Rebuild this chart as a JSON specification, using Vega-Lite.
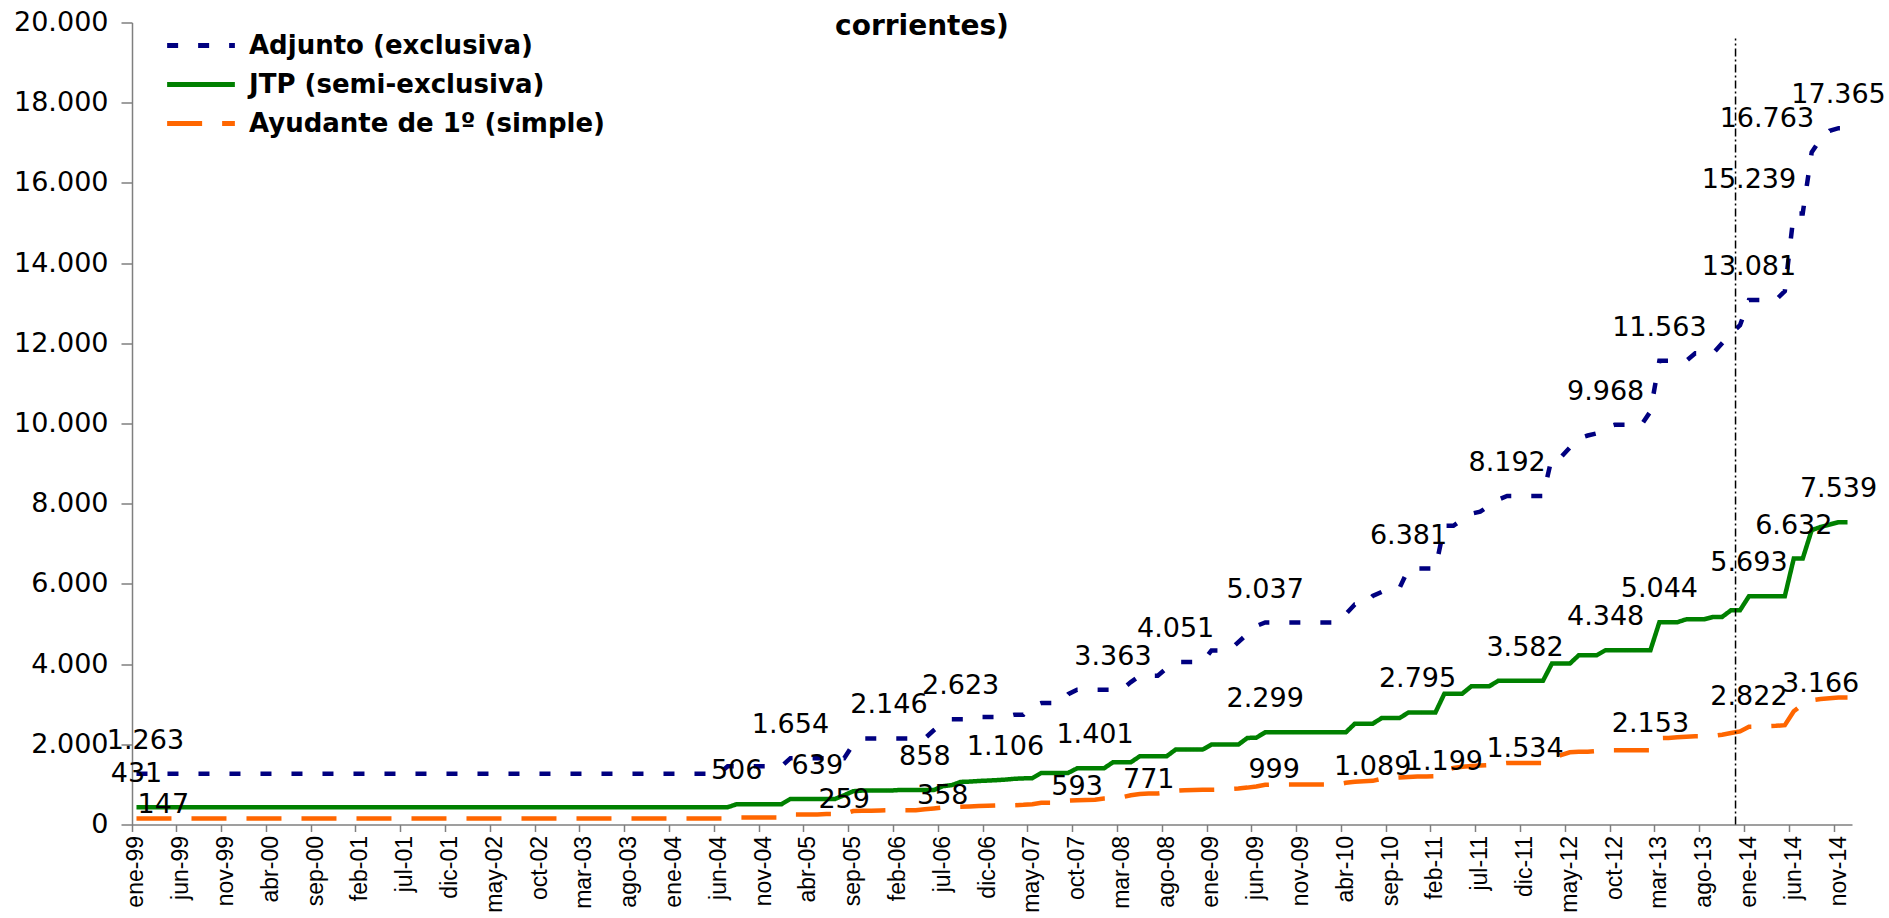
{
  "$schema": "https://vega.github.io/schema/vega-lite/v6.json",
  "width": 1720,
  "height": 802,
  "autosize": "none",
  "padding": {"left": 132, "top": 22.5, "right": 37, "bottom": 93.5},
  "background": "white",
  "config": {
    "view": {"stroke": null},
    "axis": {"grid": false},
    "locale": {"number": {"decimal": ",", "thousands": ".", "grouping": [3], "currency": ["$", ""]}}
  },
  "title": {
    "text": "corrientes)",
    "font": "DejaVu Sans",
    "fontSize": 28,
    "fontWeight": "bold",
    "color": "black",
    "anchor": "middle",
    "frame": "group",
    "dx": -70,
    "offset": -54,
    "baseline": "alphabetic"
  },
  "datasets": {
    "meses": [
      {"mes":"ene-99","Adjunto":1263,"JTP":431,"Ayudante":147},
      {"mes":"feb-99","Adjunto":1263,"JTP":431,"Ayudante":147},
      {"mes":"mar-99","Adjunto":1263,"JTP":431,"Ayudante":147},
      {"mes":"abr-99","Adjunto":1263,"JTP":431,"Ayudante":147},
      {"mes":"may-99","Adjunto":1263,"JTP":431,"Ayudante":147},
      {"mes":"jun-99","Adjunto":1263,"JTP":431,"Ayudante":147},
      {"mes":"jul-99","Adjunto":1263,"JTP":431,"Ayudante":147},
      {"mes":"ago-99","Adjunto":1263,"JTP":431,"Ayudante":147},
      {"mes":"sep-99","Adjunto":1263,"JTP":431,"Ayudante":147},
      {"mes":"oct-99","Adjunto":1263,"JTP":431,"Ayudante":147},
      {"mes":"nov-99","Adjunto":1263,"JTP":431,"Ayudante":147},
      {"mes":"dic-99","Adjunto":1263,"JTP":431,"Ayudante":147},
      {"mes":"ene-00","Adjunto":1263,"JTP":431,"Ayudante":147},
      {"mes":"feb-00","Adjunto":1263,"JTP":431,"Ayudante":147},
      {"mes":"mar-00","Adjunto":1263,"JTP":431,"Ayudante":147},
      {"mes":"abr-00","Adjunto":1263,"JTP":431,"Ayudante":147},
      {"mes":"may-00","Adjunto":1263,"JTP":431,"Ayudante":147},
      {"mes":"jun-00","Adjunto":1263,"JTP":431,"Ayudante":147},
      {"mes":"jul-00","Adjunto":1263,"JTP":431,"Ayudante":147},
      {"mes":"ago-00","Adjunto":1263,"JTP":431,"Ayudante":147},
      {"mes":"sep-00","Adjunto":1263,"JTP":431,"Ayudante":147},
      {"mes":"oct-00","Adjunto":1263,"JTP":431,"Ayudante":147},
      {"mes":"nov-00","Adjunto":1263,"JTP":431,"Ayudante":147},
      {"mes":"dic-00","Adjunto":1263,"JTP":431,"Ayudante":147},
      {"mes":"ene-01","Adjunto":1263,"JTP":431,"Ayudante":147},
      {"mes":"feb-01","Adjunto":1263,"JTP":431,"Ayudante":147},
      {"mes":"mar-01","Adjunto":1263,"JTP":431,"Ayudante":147},
      {"mes":"abr-01","Adjunto":1263,"JTP":431,"Ayudante":147},
      {"mes":"may-01","Adjunto":1263,"JTP":431,"Ayudante":147},
      {"mes":"jun-01","Adjunto":1263,"JTP":431,"Ayudante":147},
      {"mes":"jul-01","Adjunto":1263,"JTP":431,"Ayudante":147},
      {"mes":"ago-01","Adjunto":1263,"JTP":431,"Ayudante":147},
      {"mes":"sep-01","Adjunto":1263,"JTP":431,"Ayudante":147},
      {"mes":"oct-01","Adjunto":1263,"JTP":431,"Ayudante":147},
      {"mes":"nov-01","Adjunto":1263,"JTP":431,"Ayudante":147},
      {"mes":"dic-01","Adjunto":1263,"JTP":431,"Ayudante":147},
      {"mes":"ene-02","Adjunto":1263,"JTP":431,"Ayudante":147},
      {"mes":"feb-02","Adjunto":1263,"JTP":431,"Ayudante":147},
      {"mes":"mar-02","Adjunto":1263,"JTP":431,"Ayudante":147},
      {"mes":"abr-02","Adjunto":1263,"JTP":431,"Ayudante":147},
      {"mes":"may-02","Adjunto":1263,"JTP":431,"Ayudante":147},
      {"mes":"jun-02","Adjunto":1263,"JTP":431,"Ayudante":147},
      {"mes":"jul-02","Adjunto":1263,"JTP":431,"Ayudante":147},
      {"mes":"ago-02","Adjunto":1263,"JTP":431,"Ayudante":147},
      {"mes":"sep-02","Adjunto":1263,"JTP":431,"Ayudante":147},
      {"mes":"oct-02","Adjunto":1263,"JTP":431,"Ayudante":147},
      {"mes":"nov-02","Adjunto":1263,"JTP":431,"Ayudante":147},
      {"mes":"dic-02","Adjunto":1263,"JTP":431,"Ayudante":147},
      {"mes":"ene-03","Adjunto":1263,"JTP":431,"Ayudante":147},
      {"mes":"feb-03","Adjunto":1263,"JTP":431,"Ayudante":147},
      {"mes":"mar-03","Adjunto":1263,"JTP":431,"Ayudante":147},
      {"mes":"abr-03","Adjunto":1263,"JTP":431,"Ayudante":147},
      {"mes":"may-03","Adjunto":1263,"JTP":431,"Ayudante":147},
      {"mes":"jun-03","Adjunto":1263,"JTP":431,"Ayudante":147},
      {"mes":"jul-03","Adjunto":1263,"JTP":431,"Ayudante":147},
      {"mes":"ago-03","Adjunto":1263,"JTP":431,"Ayudante":147},
      {"mes":"sep-03","Adjunto":1263,"JTP":431,"Ayudante":147},
      {"mes":"oct-03","Adjunto":1263,"JTP":431,"Ayudante":147},
      {"mes":"nov-03","Adjunto":1263,"JTP":431,"Ayudante":147},
      {"mes":"dic-03","Adjunto":1263,"JTP":431,"Ayudante":147},
      {"mes":"ene-04","Adjunto":1263,"JTP":431,"Ayudante":147},
      {"mes":"feb-04","Adjunto":1263,"JTP":431,"Ayudante":147},
      {"mes":"mar-04","Adjunto":1263,"JTP":431,"Ayudante":147},
      {"mes":"abr-04","Adjunto":1263,"JTP":431,"Ayudante":147},
      {"mes":"may-04","Adjunto":1263,"JTP":431,"Ayudante":147},
      {"mes":"jun-04","Adjunto":1263,"JTP":431,"Ayudante":147},
      {"mes":"jul-04","Adjunto":1452,"JTP":431,"Ayudante":147},
      {"mes":"ago-04","Adjunto":1452,"JTP":506,"Ayudante":175},
      {"mes":"sep-04","Adjunto":1452,"JTP":506,"Ayudante":175},
      {"mes":"oct-04","Adjunto":1452,"JTP":506,"Ayudante":175},
      {"mes":"nov-04","Adjunto":1452,"JTP":506,"Ayudante":175},
      {"mes":"dic-04","Adjunto":1452,"JTP":506,"Ayudante":175},
      {"mes":"ene-05","Adjunto":1452,"JTP":506,"Ayudante":175},
      {"mes":"feb-05","Adjunto":1654,"JTP":639,"Ayudante":250},
      {"mes":"mar-05","Adjunto":1654,"JTP":639,"Ayudante":250},
      {"mes":"abr-05","Adjunto":1654,"JTP":639,"Ayudante":250},
      {"mes":"may-05","Adjunto":1654,"JTP":639,"Ayudante":250},
      {"mes":"jun-05","Adjunto":1654,"JTP":639,"Ayudante":259},
      {"mes":"jul-05","Adjunto":1654,"JTP":639,"Ayudante":259},
      {"mes":"ago-05","Adjunto":1654,"JTP":730,"Ayudante":259},
      {"mes":"sep-05","Adjunto":2000,"JTP":830,"Ayudante":335},
      {"mes":"oct-05","Adjunto":2146,"JTP":845,"Ayudante":340},
      {"mes":"nov-05","Adjunto":2146,"JTP":845,"Ayudante":345},
      {"mes":"dic-05","Adjunto":2146,"JTP":845,"Ayudante":350},
      {"mes":"ene-06","Adjunto":2146,"JTP":845,"Ayudante":355},
      {"mes":"feb-06","Adjunto":2146,"JTP":858,"Ayudante":358},
      {"mes":"mar-06","Adjunto":2146,"JTP":858,"Ayudante":358},
      {"mes":"abr-06","Adjunto":2146,"JTP":858,"Ayudante":358},
      {"mes":"may-06","Adjunto":2146,"JTP":858,"Ayudante":380},
      {"mes":"jun-06","Adjunto":2350,"JTP":858,"Ayudante":400},
      {"mes":"jul-06","Adjunto":2530,"JTP":956,"Ayudante":424},
      {"mes":"ago-06","Adjunto":2623,"JTP":981,"Ayudante":435},
      {"mes":"sep-06","Adjunto":2623,"JTP":1062,"Ayudante":440},
      {"mes":"oct-06","Adjunto":2623,"JTP":1070,"Ayudante":450},
      {"mes":"nov-06","Adjunto":2681,"JTP":1085,"Ayudante":460},
      {"mes":"dic-06","Adjunto":2681,"JTP":1095,"Ayudante":465},
      {"mes":"ene-07","Adjunto":2681,"JTP":1106,"Ayudante":473},
      {"mes":"feb-07","Adjunto":2681,"JTP":1120,"Ayudante":478},
      {"mes":"mar-07","Adjunto":2739,"JTP":1140,"Ayudante":481},
      {"mes":"abr-07","Adjunto":2739,"JTP":1150,"Ayudante":490},
      {"mes":"may-07","Adjunto":2950,"JTP":1155,"Ayudante":505},
      {"mes":"jun-07","Adjunto":3030,"JTP":1287,"Ayudante":540},
      {"mes":"jul-07","Adjunto":3030,"JTP":1287,"Ayudante":540},
      {"mes":"ago-07","Adjunto":3030,"JTP":1287,"Ayudante":560},
      {"mes":"sep-07","Adjunto":3250,"JTP":1287,"Ayudante":593},
      {"mes":"oct-07","Adjunto":3363,"JTP":1401,"Ayudante":606},
      {"mes":"nov-07","Adjunto":3363,"JTP":1401,"Ayudante":610},
      {"mes":"dic-07","Adjunto":3363,"JTP":1401,"Ayudante":615},
      {"mes":"ene-08","Adjunto":3363,"JTP":1401,"Ayudante":648},
      {"mes":"feb-08","Adjunto":3363,"JTP":1552,"Ayudante":660},
      {"mes":"mar-08","Adjunto":3363,"JTP":1552,"Ayudante":680},
      {"mes":"abr-08","Adjunto":3550,"JTP":1552,"Ayudante":730},
      {"mes":"may-08","Adjunto":3710,"JTP":1702,"Ayudante":760},
      {"mes":"jun-08","Adjunto":3710,"JTP":1702,"Ayudante":771},
      {"mes":"jul-08","Adjunto":3710,"JTP":1702,"Ayudante":773},
      {"mes":"ago-08","Adjunto":3900,"JTP":1702,"Ayudante":800},
      {"mes":"sep-08","Adjunto":4051,"JTP":1868,"Ayudante":840},
      {"mes":"oct-08","Adjunto":4051,"JTP":1868,"Ayudante":856},
      {"mes":"nov-08","Adjunto":4051,"JTP":1868,"Ayudante":860},
      {"mes":"dic-08","Adjunto":4051,"JTP":1868,"Ayudante":865},
      {"mes":"ene-09","Adjunto":4341,"JTP":1992,"Ayudante":868},
      {"mes":"feb-09","Adjunto":4341,"JTP":1992,"Ayudante":872},
      {"mes":"mar-09","Adjunto":4341,"JTP":1992,"Ayudante":885},
      {"mes":"abr-09","Adjunto":4550,"JTP":1992,"Ayudante":898},
      {"mes":"may-09","Adjunto":4750,"JTP":2158,"Ayudante":920},
      {"mes":"jun-09","Adjunto":4950,"JTP":2165,"Ayudante":950},
      {"mes":"jul-09","Adjunto":5037,"JTP":2299,"Ayudante":990},
      {"mes":"ago-09","Adjunto":5037,"JTP":2299,"Ayudante":999},
      {"mes":"sep-09","Adjunto":5037,"JTP":2299,"Ayudante":999},
      {"mes":"oct-09","Adjunto":5037,"JTP":2299,"Ayudante":999},
      {"mes":"nov-09","Adjunto":5037,"JTP":2299,"Ayudante":999},
      {"mes":"dic-09","Adjunto":5037,"JTP":2299,"Ayudante":999},
      {"mes":"ene-10","Adjunto":5037,"JTP":2299,"Ayudante":999},
      {"mes":"feb-10","Adjunto":5037,"JTP":2299,"Ayudante":999},
      {"mes":"mar-10","Adjunto":5037,"JTP":2299,"Ayudante":999},
      {"mes":"abr-10","Adjunto":5250,"JTP":2299,"Ayudante":1040},
      {"mes":"may-10","Adjunto":5485,"JTP":2514,"Ayudante":1064},
      {"mes":"jun-10","Adjunto":5485,"JTP":2514,"Ayudante":1080},
      {"mes":"jul-10","Adjunto":5700,"JTP":2514,"Ayudante":1089},
      {"mes":"ago-10","Adjunto":5801,"JTP":2655,"Ayudante":1140},
      {"mes":"sep-10","Adjunto":5801,"JTP":2655,"Ayudante":1160},
      {"mes":"oct-10","Adjunto":5900,"JTP":2655,"Ayudante":1172},
      {"mes":"nov-10","Adjunto":6381,"JTP":2795,"Ayudante":1185},
      {"mes":"dic-10","Adjunto":6381,"JTP":2795,"Ayudante":1195},
      {"mes":"ene-11","Adjunto":6381,"JTP":2795,"Ayudante":1199},
      {"mes":"feb-11","Adjunto":6381,"JTP":2795,"Ayudante":1205},
      {"mes":"mar-11","Adjunto":7450,"JTP":3263,"Ayudante":1350},
      {"mes":"abr-11","Adjunto":7450,"JTP":3263,"Ayudante":1410},
      {"mes":"may-11","Adjunto":7600,"JTP":3263,"Ayudante":1440},
      {"mes":"jun-11","Adjunto":7750,"JTP":3446,"Ayudante":1460},
      {"mes":"jul-11","Adjunto":7800,"JTP":3446,"Ayudante":1470},
      {"mes":"ago-11","Adjunto":7950,"JTP":3446,"Ayudante":1480},
      {"mes":"sep-11","Adjunto":8100,"JTP":3582,"Ayudante":1510},
      {"mes":"oct-11","Adjunto":8192,"JTP":3582,"Ayudante":1534},
      {"mes":"nov-11","Adjunto":8192,"JTP":3582,"Ayudante":1534},
      {"mes":"dic-11","Adjunto":8192,"JTP":3582,"Ayudante":1534},
      {"mes":"ene-12","Adjunto":8192,"JTP":3582,"Ayudante":1534},
      {"mes":"feb-12","Adjunto":8192,"JTP":3582,"Ayudante":1534},
      {"mes":"mar-12","Adjunto":9155,"JTP":4012,"Ayudante":1640},
      {"mes":"abr-12","Adjunto":9155,"JTP":4012,"Ayudante":1730},
      {"mes":"may-12","Adjunto":9400,"JTP":4012,"Ayudante":1800},
      {"mes":"jun-12","Adjunto":9630,"JTP":4220,"Ayudante":1812},
      {"mes":"jul-12","Adjunto":9700,"JTP":4220,"Ayudante":1812},
      {"mes":"ago-12","Adjunto":9755,"JTP":4220,"Ayudante":1830},
      {"mes":"sep-12","Adjunto":9900,"JTP":4348,"Ayudante":1854},
      {"mes":"oct-12","Adjunto":9968,"JTP":4348,"Ayudante":1854},
      {"mes":"nov-12","Adjunto":9968,"JTP":4348,"Ayudante":1854},
      {"mes":"dic-12","Adjunto":9968,"JTP":4348,"Ayudante":1854},
      {"mes":"ene-13","Adjunto":9968,"JTP":4348,"Ayudante":1854},
      {"mes":"feb-13","Adjunto":10300,"JTP":4348,"Ayudante":1854},
      {"mes":"mar-13","Adjunto":11563,"JTP":5044,"Ayudante":2153},
      {"mes":"abr-13","Adjunto":11563,"JTP":5044,"Ayudante":2160},
      {"mes":"may-13","Adjunto":11563,"JTP":5044,"Ayudante":2175},
      {"mes":"jun-13","Adjunto":11563,"JTP":5118,"Ayudante":2190},
      {"mes":"jul-13","Adjunto":11752,"JTP":5118,"Ayudante":2203},
      {"mes":"ago-13","Adjunto":11752,"JTP":5118,"Ayudante":2205},
      {"mes":"sep-13","Adjunto":11752,"JTP":5177,"Ayudante":2210},
      {"mes":"oct-13","Adjunto":12000,"JTP":5177,"Ayudante":2240},
      {"mes":"nov-13","Adjunto":12250,"JTP":5343,"Ayudante":2280},
      {"mes":"dic-13","Adjunto":12450,"JTP":5343,"Ayudante":2320},
      {"mes":"ene-14","Adjunto":13081,"JTP":5693,"Ayudante":2436},
      {"mes":"feb-14","Adjunto":13081,"JTP":5693,"Ayudante":2440},
      {"mes":"mar-14","Adjunto":13081,"JTP":5693,"Ayudante":2450},
      {"mes":"abr-14","Adjunto":13081,"JTP":5693,"Ayudante":2460},
      {"mes":"may-14","Adjunto":13300,"JTP":5693,"Ayudante":2478},
      {"mes":"jun-14","Adjunto":15239,"JTP":6632,"Ayudante":2822},
      {"mes":"jul-14","Adjunto":15239,"JTP":6632,"Ayudante":3000},
      {"mes":"ago-14","Adjunto":16763,"JTP":7341,"Ayudante":3100},
      {"mes":"sep-14","Adjunto":17100,"JTP":7420,"Ayudante":3130},
      {"mes":"oct-14","Adjunto":17300,"JTP":7480,"Ayudante":3150},
      {"mes":"nov-14","Adjunto":17365,"JTP":7539,"Ayudante":3166},
      {"mes":"dic-14","Adjunto":17365,"JTP":7539,"Ayudante":3166}
    ],
    "etiquetas": [
      {"serie":"Adjunto","mes":"feb-99","valor":1263},
      {"serie":"Adjunto","mes":"feb-05","valor":1654},
      {"serie":"Adjunto","mes":"ene-06","valor":2146},
      {"serie":"Adjunto","mes":"sep-06","valor":2623},
      {"serie":"Adjunto","mes":"feb-08","valor":3363},
      {"serie":"Adjunto","mes":"sep-08","valor":4051},
      {"serie":"Adjunto","mes":"jul-09","valor":5037},
      {"serie":"Adjunto","mes":"nov-10","valor":6381},
      {"serie":"Adjunto","mes":"oct-11","valor":8192},
      {"serie":"Adjunto","mes":"sep-12","valor":9968},
      {"serie":"Adjunto","mes":"mar-13","valor":11563},
      {"serie":"Adjunto","mes":"ene-14","valor":13081},
      {"serie":"Adjunto","mes":"ene-14","valor":15239},
      {"serie":"Adjunto","mes":"mar-14","valor":16763},
      {"serie":"Adjunto","mes":"nov-14","valor":17365},
      {"serie":"JTP","mes":"ene-99","valor":431},
      {"serie":"JTP","mes":"ago-04","valor":506},
      {"serie":"JTP","mes":"may-05","valor":639},
      {"serie":"JTP","mes":"may-06","valor":858},
      {"serie":"JTP","mes":"feb-07","valor":1106},
      {"serie":"JTP","mes":"dic-07","valor":1401},
      {"serie":"JTP","mes":"jul-09","valor":2299},
      {"serie":"JTP","mes":"dic-10","valor":2795},
      {"serie":"JTP","mes":"dic-11","valor":3582},
      {"serie":"JTP","mes":"sep-12","valor":4348},
      {"serie":"JTP","mes":"mar-13","valor":5044},
      {"serie":"JTP","mes":"ene-14","valor":5693},
      {"serie":"JTP","mes":"jun-14","valor":6632},
      {"serie":"JTP","mes":"nov-14","valor":7539},
      {"serie":"Ayudante","mes":"abr-99","valor":147},
      {"serie":"Ayudante","mes":"ago-05","valor":259},
      {"serie":"Ayudante","mes":"jul-06","valor":358},
      {"serie":"Ayudante","mes":"oct-07","valor":593},
      {"serie":"Ayudante","mes":"jun-08","valor":771},
      {"serie":"Ayudante","mes":"ago-09","valor":999},
      {"serie":"Ayudante","mes":"jul-10","valor":1089},
      {"serie":"Ayudante","mes":"mar-11","valor":1199},
      {"serie":"Ayudante","mes":"dic-11","valor":1534},
      {"serie":"Ayudante","mes":"feb-13","valor":2153},
      {"serie":"Ayudante","mes":"ene-14","valor":2822},
      {"serie":"Ayudante","mes":"sep-14","valor":3166}
    ]
  },
  "layer": [
    {
      "data": {"name": "meses"},
      "transform": [{"fold": ["Adjunto", "JTP", "Ayudante"], "as": ["serie", "valor"]}],
      "mark": {"type": "line", "strokeWidth": 4.5, "strokeCap": "butt", "clip": false},
      "encoding": {
        "x": {
          "field": "mes",
          "type": "ordinal",
          "bandPosition": 0.5,
          "scale": {
            "type": "band",
            "paddingInner": 0,
            "paddingOuter": 0,
            "domain": ["ene-99","feb-99","mar-99","abr-99","may-99","jun-99","jul-99","ago-99","sep-99","oct-99","nov-99","dic-99","ene-00","feb-00","mar-00","abr-00","may-00","jun-00","jul-00","ago-00","sep-00","oct-00","nov-00","dic-00","ene-01","feb-01","mar-01","abr-01","may-01","jun-01","jul-01","ago-01","sep-01","oct-01","nov-01","dic-01","ene-02","feb-02","mar-02","abr-02","may-02","jun-02","jul-02","ago-02","sep-02","oct-02","nov-02","dic-02","ene-03","feb-03","mar-03","abr-03","may-03","jun-03","jul-03","ago-03","sep-03","oct-03","nov-03","dic-03","ene-04","feb-04","mar-04","abr-04","may-04","jun-04","jul-04","ago-04","sep-04","oct-04","nov-04","dic-04","ene-05","feb-05","mar-05","abr-05","may-05","jun-05","jul-05","ago-05","sep-05","oct-05","nov-05","dic-05","ene-06","feb-06","mar-06","abr-06","may-06","jun-06","jul-06","ago-06","sep-06","oct-06","nov-06","dic-06","ene-07","feb-07","mar-07","abr-07","may-07","jun-07","jul-07","ago-07","sep-07","oct-07","nov-07","dic-07","ene-08","feb-08","mar-08","abr-08","may-08","jun-08","jul-08","ago-08","sep-08","oct-08","nov-08","dic-08","ene-09","feb-09","mar-09","abr-09","may-09","jun-09","jul-09","ago-09","sep-09","oct-09","nov-09","dic-09","ene-10","feb-10","mar-10","abr-10","may-10","jun-10","jul-10","ago-10","sep-10","oct-10","nov-10","dic-10","ene-11","feb-11","mar-11","abr-11","may-11","jun-11","jul-11","ago-11","sep-11","oct-11","nov-11","dic-11","ene-12","feb-12","mar-12","abr-12","may-12","jun-12","jul-12","ago-12","sep-12","oct-12","nov-12","dic-12","ene-13","feb-13","mar-13","abr-13","may-13","jun-13","jul-13","ago-13","sep-13","oct-13","nov-13","dic-13","ene-14","feb-14","mar-14","abr-14","may-14","jun-14","jul-14","ago-14","sep-14","oct-14","nov-14","dic-14"]
          },
          "axis": {
            "title": null,
            "values": ["ene-99","jun-99","nov-99","abr-00","sep-00","feb-01","jul-01","dic-01","may-02","oct-02","mar-03","ago-03","ene-04","jun-04","nov-04","abr-05","sep-05","feb-06","jul-06","dic-06","may-07","oct-07","mar-08","ago-08","ene-09","jun-09","nov-09","abr-10","sep-10","feb-11","jul-11","dic-11","may-12","oct-12","mar-13","ago-13","ene-14","jun-14","nov-14"],
            "bandPosition": 0,
            "labelAngle": -90,
            "labelFont": "Liberation Sans",
            "labelFontSize": 23,
            "labelColor": "black",
            "labelPadding": 4,
            "labelLimit": 0,
            "tickSize": 7,
            "tickColor": "#7f7f7f",
            "tickWidth": 1.5,
            "domainColor": "#7f7f7f",
            "domainWidth": 1.5
          }
        },
        "y": {
          "field": "valor",
          "type": "quantitative",
          "scale": {"domain": [0, 20000], "nice": false, "zero": true},
          "axis": {
            "title": null,
            "values": [0, 2000, 4000, 6000, 8000, 10000, 12000, 14000, 16000, 18000, 20000],
            "format": ",.0f",
            "labelFont": "DejaVu Sans",
            "labelFontSize": 27,
            "labelColor": "black",
            "labelPadding": 13,
            "tickSize": 11,
            "tickColor": "#7f7f7f",
            "tickWidth": 1.5,
            "domainColor": "#7f7f7f",
            "domainWidth": 1.5
          }
        },
        "color": {
          "field": "serie",
          "type": "nominal",
          "scale": {"domain": ["Adjunto", "JTP", "Ayudante"], "range": ["#000080", "#008000", "#FF6600"]},
          "legend": {
            "title": null,
            "orient": "none",
            "legendX": 55,
            "legendY": 9,
            "padding": 0,
            "symbolType": "M-3,0H3",
            "symbolSize": 510,
            "symbolStrokeWidth": 5,
            "labelFont": "DejaVu Sans",
            "labelFontSize": 26,
            "labelFontWeight": "bold",
            "labelColor": "black",
            "labelOffset": 34,
            "labelLimit": 0,
            "rowPadding": 12,
            "labelExpr": "datum.label == 'Adjunto' ? 'Adjunto (exclusiva)' : datum.label == 'JTP' ? 'JTP (semi-exclusiva)' : 'Ayudante de 1º (simple)'"
          }
        },
        "strokeDash": {
          "field": "serie",
          "type": "nominal",
          "scale": {"domain": ["Adjunto", "JTP", "Ayudante"], "range": [[11, 20], [1, 0], [35, 20]]}
        }
      }
    },
    {
      "data": {"values": [{"mes": "dic-13"}]},
      "mark": {"type": "rule", "color": "black", "strokeWidth": 1.5, "strokeDash": [8, 3, 2, 3]},
      "encoding": {
        "x": {"field": "mes", "type": "ordinal", "bandPosition": 0},
        "y": {"datum": 0},
        "y2": {"datum": 19600}
      }
    },
    {
      "data": {"name": "etiquetas"},
      "transform": [{"filter": "datum.serie != 'Ayudante'"}],
      "mark": {"type": "text", "font": "DejaVu Sans", "fontSize": 27, "color": "black", "align": "center", "baseline": "middle", "dy": -33},
      "encoding": {
        "x": {"field": "mes", "type": "ordinal", "bandPosition": 0.5},
        "y": {"field": "valor", "type": "quantitative"},
        "text": {"field": "valor", "type": "quantitative", "format": ",.0f"}
      }
    },
    {
      "data": {"name": "etiquetas"},
      "transform": [{"filter": "datum.serie == 'Ayudante'"}],
      "mark": {"type": "text", "font": "DejaVu Sans", "fontSize": 27, "color": "black", "align": "center", "baseline": "middle", "dy": -14},
      "encoding": {
        "x": {"field": "mes", "type": "ordinal", "bandPosition": 0.5},
        "y": {"field": "valor", "type": "quantitative"},
        "text": {"field": "valor", "type": "quantitative", "format": ",.0f"}
      }
    }
  ]
}
